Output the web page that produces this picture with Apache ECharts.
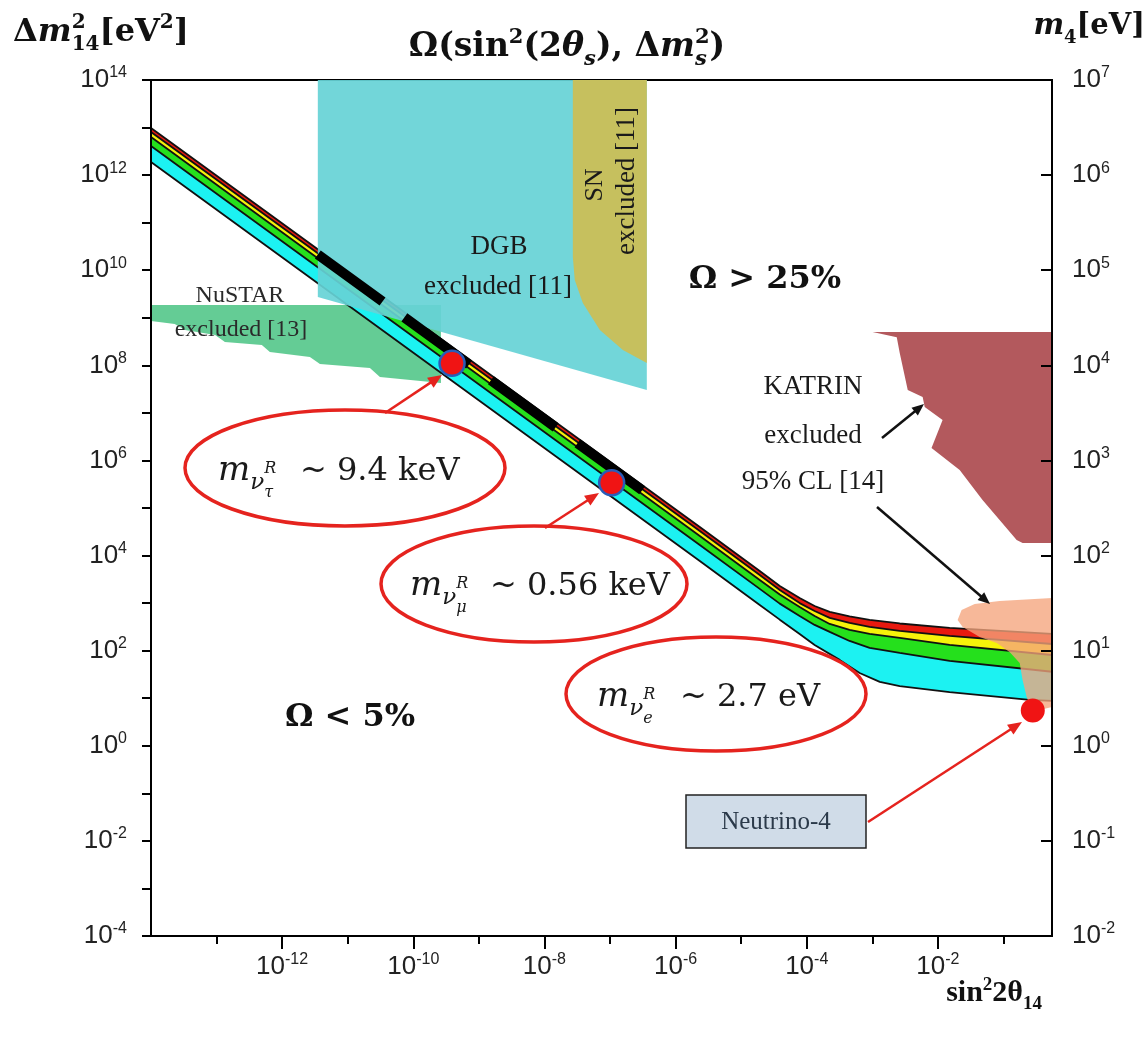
<!DOCTYPE html>
<html><head><meta charset="utf-8">
<script src="https://cdn.jsdelivr.net/npm/echarts@6/dist/echarts.min.js"></script>
<style>html,body{margin:0;padding:0;background:#fff}#c{width:1147px;height:1039px}</style>
</head><body><div id="c"></div>
<script>
// ---------- axis ticks (log10 exponents) ----------
const X_MIN = -14, X_MAX = Math.log10(0.55);
const xMajorTicks = [-12, -10, -8, -6, -4, -2];
const xMinorTicks = [-13, -11, -9, -7, -5, -3, -1];
const yLeftTicks = [-4,-3,-2,-1,0,1,2,3,4,5,6,7,8,9,10,11,12,13,14];
const yRightTicks = [-2,-1,0,1,2,3,4,5,6,7];

// ---------- band boundaries  [sin^2 2θ14, Δm²14 (eV²)] ----------
const redTop      = [[1e-14,9.8e12],[2.34e-6,4.0e4],[1.92e-5,4.74e3],[3.88e-5,2.3e3],[7.8e-5,1.28e3],[1.32e-4,871],[2.24e-4,652],[4.5e-4,524],[9.1e-4,443],[2.62e-3,373],[1.51e-2,301],[0.55,225]];
const redYellow   = [[1e-14,8.1e12],[2.34e-6,3.29e4],[1.92e-5,3.91e3],[3.88e-5,1.89e3],[7.8e-5,1.0e3],[1.32e-4,684],[2.24e-4,488],[4.5e-4,383],[9.1e-4,316],[2.62e-3,260],[1.51e-2,204],[0.55,138]];
const yellowGreen = [[1e-14,6.3e12],[2.34e-6,2.58e4],[1.92e-5,3.07e3],[3.88e-5,1.51e3],[7.8e-5,830],[1.32e-4,537],[2.24e-4,365],[4.5e-4,273],[9.1e-4,225],[2.62e-3,185],[1.51e-2,132],[0.55,81]];
const greenCyan   = [[1e-14,4.1e12],[2.34e-6,1.67e4],[1.92e-5,1.99e3],[3.88e-5,975],[7.8e-5,537],[1.32e-4,348],[2.24e-4,248],[4.5e-4,160],[9.1e-4,114],[2.62e-3,90],[1.51e-2,61],[0.55,36]];
const cyanBottom  = [[1e-14,1.89e12],[2.34e-6,7.7e3],[1.92e-5,914],[3.88e-5,449],[7.8e-5,225],[1.32e-4,132],[3.18e-4,64],[6.4e-4,34],[1.30e-3,22],[2.62e-3,18],[1.51e-2,13.5],[0.25,9.2],[0.55,8.8]];
const blackDash   = [[3.5e-12,2.14e10],[5.7e-7,1.28e5]];

// ---------- excluded regions ----------
const dgbRegion    = [[3.5e-12,1e14],[3.64e-7,1e14],[3.64e-7,3.03e7],[3.5e-12,2.74e9]];
const snRegion     = [[2.71e-8,1e14],[3.64e-7,1e14],[3.64e-7,1.12e8],[1.57e-7,2.1e8],[7.0e-8,5.5e8],[3.85e-8,2.05e9],[2.9e-8,6.2e9],[2.71e-8,1.9e10]];
const nustarRegion = [[1e-14,1.86e9],[2.64e-10,1.86e9],[2.64e-10,4.26e7],[3.1e-11,5.7e7],[2.18e-11,8.8e7],[3.77e-12,1.07e8],[2.65e-12,1.5e8],[6.5e-13,1.91e8],[4.9e-13,2.68e8],[1.34e-13,3.1e8],[9.5e-14,4.35e8],[3.3e-14,5.5e8],[2.3e-14,7.4e8],[1e-14,8.6e8]];
const katrinRegion = [[1.01e-3,5.0e8],[0.55,5.0e8],[0.55,1.84e4],[0.196,1.84e4],[0.159,2.13e4],[4.8e-2,1.48e5],[2.15e-2,6.3e5],[8.0e-3,1.83e6],[1.18e-2,7.1e6],[6.3e-3,1.33e7],[5.86e-3,2.16e7],[3.47e-3,3.03e7],[2.62e-3,1.82e8],[2.36e-3,3.9e8]];
const neutrino4Region = [[2.0e-2,443],[2.3e-2,718],[3.64e-2,960],[8.7e-2,1.11e3],[0.55,1.28e3],[0.55,6.5],[0.279,5.2],[0.226,10.6],[0.196,24],[0.177,55],[0.124,94],[7.9e-2,145],[4.34e-2,194],[2.39e-2,316]];

// ---------- points ----------
const massPoints = [[3.9e-10,1.1e8],[1.06e-7,3.4e5]];
const neutrino4Point = [[0.28,5.5]];

// ---------- helpers ----------
const L = p => [Math.log10(p[0]), Math.log10(p[1])];
const SS = '"Liberation Sans", Arial, sans-serif';
const TS = '"Liberation Serif", "Times New Roman", serif';
const DS = '"DejaVu Serif", serif';
const cvs = document.createElement('canvas').getContext('2d');
function fontOf(p){ return (p.i?'italic ':'')+(p.b?'bold ':'')+p.s+'px '+(p.f||DS); }
function tw(t,f){ cvs.font=f; return cvs.measureText(t).width; }
function comp(parts, x, base, align, color){
  const w = parts.map(p=>tw(p.t,fontOf(p)));
  let total=0, pend=0;
  parts.forEach((p,i)=>{ if(p.adv===false){pend=w[i];} else {total+=Math.max(w[i],pend);pend=0;} });
  let cx = align==='center'? x-total/2 : align==='right'? x-total : x;
  pend=0; const els=[];
  parts.forEach((p,i)=>{
    els.push({type:'text', z:100, style:{text:p.t, font:fontOf(p), x:cx, y:base+(p.dy||0)-0.32*p.s, fill:p.c||color||'#111', textAlign:'left', verticalAlign:'middle'}});
    if(p.adv===false){pend=w[i];} else {cx+=Math.max(w[i],pend);pend=0;}
  });
  return els;
}
function txt(t,x,y,size,opts){ opts=opts||{}; return {type:'text', z:100, rotation:opts.rot||0, x:x, y:y, style:{text:t, font:(opts.b?'bold ':'')+size+'px '+(opts.f||TS), x:0, y:0, fill:opts.c||'#1a1a1a', textAlign:'center', verticalAlign:'middle'}}; }
function arrow(x1,y1,x2,y2,color,w,head){
  const a=Math.atan2(y2-y1,x2-x1), hx=x2-head*Math.cos(a), hy=y2-head*Math.sin(a);
  const px=-Math.sin(a)*head*0.42, py=Math.cos(a)*head*0.42;
  return [{type:'line', z:100, shape:{x1:x1,y1:y1,x2:hx+Math.cos(a)*2,y2:hy+Math.sin(a)*2}, style:{stroke:color,lineWidth:w}},
          {type:'polygon', z:100, shape:{points:[[x2,y2],[hx+px,hy+py],[hx-px,hy-py]]}, style:{fill:color}}];
}
function ell(cx,cy,rx,ry){ return {type:'ellipse', z:99, shape:{cx:cx,cy:cy,rx:rx,ry:ry}, style:{fill:null, stroke:'#E5231E', lineWidth:3.5}}; }
function polySeries(pts, color, opacity, z){
  return {type:'custom', coordinateSystem:'cartesian2d', z:z, clip:true, silent:true, data:[L(pts[0])],
    renderItem:(params, api)=>({type:'polygon', shape:{points:pts.map(p=>api.coord(L(p)))}, style:{fill:color, opacity:opacity}})};
}
function bandSeries(upper, lower, color){
  const pts = upper.concat(lower.slice().reverse());
  return polySeries(pts, color, 1, 2);
}
function lineSeries(pts, width, color, z, type){
  return {type:'line', data:pts.map(L), symbol:'none', silent:true, z:z,
    lineStyle:{color:color, width:width, type:type||'solid', cap:'butt'}};
}
const richLbl = {b:{fontSize:26, fontFamily:SS, color:'#222', lineHeight:30}, s:{fontSize:16, fontFamily:SS, color:'#222', verticalAlign:'top', lineHeight:16}};
const pow10 = v => '{b|10}{s|' + Math.round(v) + '}';

// ---------- graphics (labels / annotations) ----------
const mLabel = (x, base, sub) => comp([
  {t:'m', s:34, i:1},
  {t:'ν', s:23, i:1, dy:8},
  {t:'R', s:16, i:1, dy:-8, adv:false},
  {t:sub, s:16, i:1, dy:16}
], x, base, 'left', '#1a1a1a');
const rest = (t, x, base) => comp([{t:t, s:32}], x, base, 'left', '#1a1a1a');

let graphics = [];
graphics = graphics.concat(
  comp([{t:'Δ',s:32,b:1},{t:'m',s:32,b:1,i:1},{t:'2',s:20,b:1,dy:-14,adv:false},{t:'14',s:20,b:1,dy:8},{t:'[eV',s:32,b:1},{t:'2',s:20,b:1,dy:-14},{t:']',s:32,b:1}], 13, 43, 'left'),
  comp([{t:'m',s:29,b:1,i:1},{t:'4',s:18,b:1,dy:8},{t:'[eV]',s:29,b:1}], 1145, 36, 'right'),
  comp([{t:'Ω(sin',s:33,b:1},{t:'2',s:21,b:1,dy:-14},{t:'(2',s:33,b:1},{t:'θ',s:33,b:1,i:1},{t:'s',s:21,b:1,i:1,dy:8},{t:'), Δ',s:33,b:1},{t:'m',s:33,b:1,i:1},{t:'2',s:21,b:1,dy:-14,adv:false},{t:'s',s:21,b:1,i:1,dy:8},{t:')',s:33,b:1}], 567, 58, 'center'),
  comp([{t:'sin',s:30,b:1,f:TS},{t:'2',s:19,b:1,f:TS,dy:-12},{t:'2θ',s:30,b:1,f:TS},{t:'14',s:19,b:1,f:TS,dy:7}], 1042, 1003, 'right'),
  comp([{t:'Ω > 25%',s:32,b:1}], 765, 290, 'center'),
  comp([{t:'Ω < 5%',s:32,b:1}], 350, 728, 'center'),
  [txt('NuSTAR',240,296,24,{c:'#2a2a2a'}), txt('excluded [13]',241,330,24,{c:'#2a2a2a'}),
   txt('DGB',499,247,27), txt('excluded [11]',498,287,27),
   txt('SN',595,185,26,{rot:Math.PI/2}), txt('excluded [11]',627,181,27,{rot:Math.PI/2}),
   txt('KATRIN',813,387,27), txt('excluded',813,436,27), txt('95% CL [14]',813,482,27)],
  [ell(345,468,160,58), ell(534,584,153,58), ell(716,694,150,57)],
  mLabel(218,482,'τ'), rest('~ 9.4 keV',300,482),
  mLabel(410,597,'μ'), rest('~ 0.56 keV',490,597),
  mLabel(597,708,'e'), rest('~ 2.7 eV',680,708),
  [{type:'rect', z:99, shape:{x:686,y:795,width:180,height:53}, style:{fill:'#D0DCE8', stroke:'#222', lineWidth:1.5}},
   txt('Neutrino-4',776,822,25,{c:'#2B3A4A'})],
  arrow(385,413,442,375,'#E5231E',2.5,14),
  arrow(545,528,599,493,'#E5231E',2.5,14),
  arrow(868,822,1022,722,'#E5231E',2.5,14),
  arrow(882,438,924,404,'#111',2.5,12),
  arrow(877,507,990,604,'#111',2.5,12)
);

const chart = echarts.init(document.getElementById('c'), null, {renderer:'canvas'});
chart.setOption({
  animation:false,
  backgroundColor:'#fff',
  grid:{left:151, right:95, top:80, bottom:103, show:true, borderColor:'#000', borderWidth:2, backgroundColor:'transparent'},
  xAxis:[
    {type:'value', min:X_MIN, max:X_MAX, interval:2, position:'bottom', z:10,
     axisLine:{show:true, onZero:false, lineStyle:{color:'#000', width:2}},
     axisTick:{show:true, customValues:xMajorTicks, length:13, lineStyle:{color:'#000', width:2}},
     axisLabel:{customValues:xMajorTicks, margin:16, formatter:pow10, rich:richLbl},
     splitLine:{show:false}},
    {type:'value', min:X_MIN, max:X_MAX, interval:1, position:'bottom', z:10,
     axisLine:{show:false, onZero:false},
     axisTick:{show:true, customValues:xMinorTicks, length:8, lineStyle:{color:'#000', width:2}},
     axisLabel:{show:false}, splitLine:{show:false}}
  ],
  yAxis:[
    {type:'value', min:-4, max:14, interval:2, position:'left', z:10,
     axisLine:{show:true, onZero:false, lineStyle:{color:'#000', width:2}},
     axisTick:{show:true, customValues:yLeftTicks, length:9, lineStyle:{color:'#000', width:2}},
     axisLabel:{margin:24, formatter:pow10, rich:richLbl},
     splitLine:{show:false}},
    {type:'value', min:-2, max:7, interval:1, position:'right', z:10,
     axisLine:{show:true, onZero:false, lineStyle:{color:'#000', width:2}},
     axisTick:{show:true, customValues:yRightTicks, inside:true, length:11, lineStyle:{color:'#000', width:2}},
     axisLabel:{margin:20, formatter:pow10, rich:richLbl},
     splitLine:{show:false}}
  ],
  series:[
    polySeries(nustarRegion, '#5CC98F', 0.95, 1),
    bandSeries(redTop, redYellow, '#E8190F'),
    bandSeries(redYellow, yellowGreen, '#F7F20A'),
    bandSeries(yellowGreen, greenCyan, '#25E01C'),
    bandSeries(greenCyan, cyanBottom, '#1CF2F2'),
    lineSeries(redTop, 1.8, '#111', 3),
    lineSeries(redYellow, 1.8, '#111', 3),
    lineSeries(yellowGreen, 1.8, '#111', 3),
    lineSeries(greenCyan, 1.8, '#111', 3),
    lineSeries(cyanBottom, 1.8, '#111', 3),
    polySeries(dgbRegion, '#66D2D6', 0.92, 4),
    polySeries(snRegion, '#C6C05E', 1, 5),
    lineSeries(blackDash, 10, '#000', 6, [80, 27]),
    polySeries(katrinRegion, '#B3595D', 1, 7),
    polySeries(neutrino4Region, '#F5A47C', 0.78, 8),
    {type:'scatter', data:massPoints.map(L), symbolSize:25, z:20, silent:true,
     itemStyle:{color:'#F01414', borderColor:'#2A5CB8', borderWidth:2.5, opacity:1}},
    {type:'scatter', data:neutrino4Point.map(L), symbolSize:24, z:20, silent:true,
     itemStyle:{color:'#F01414', opacity:1}}
  ],
  graphic: graphics
});
</script></body></html>
